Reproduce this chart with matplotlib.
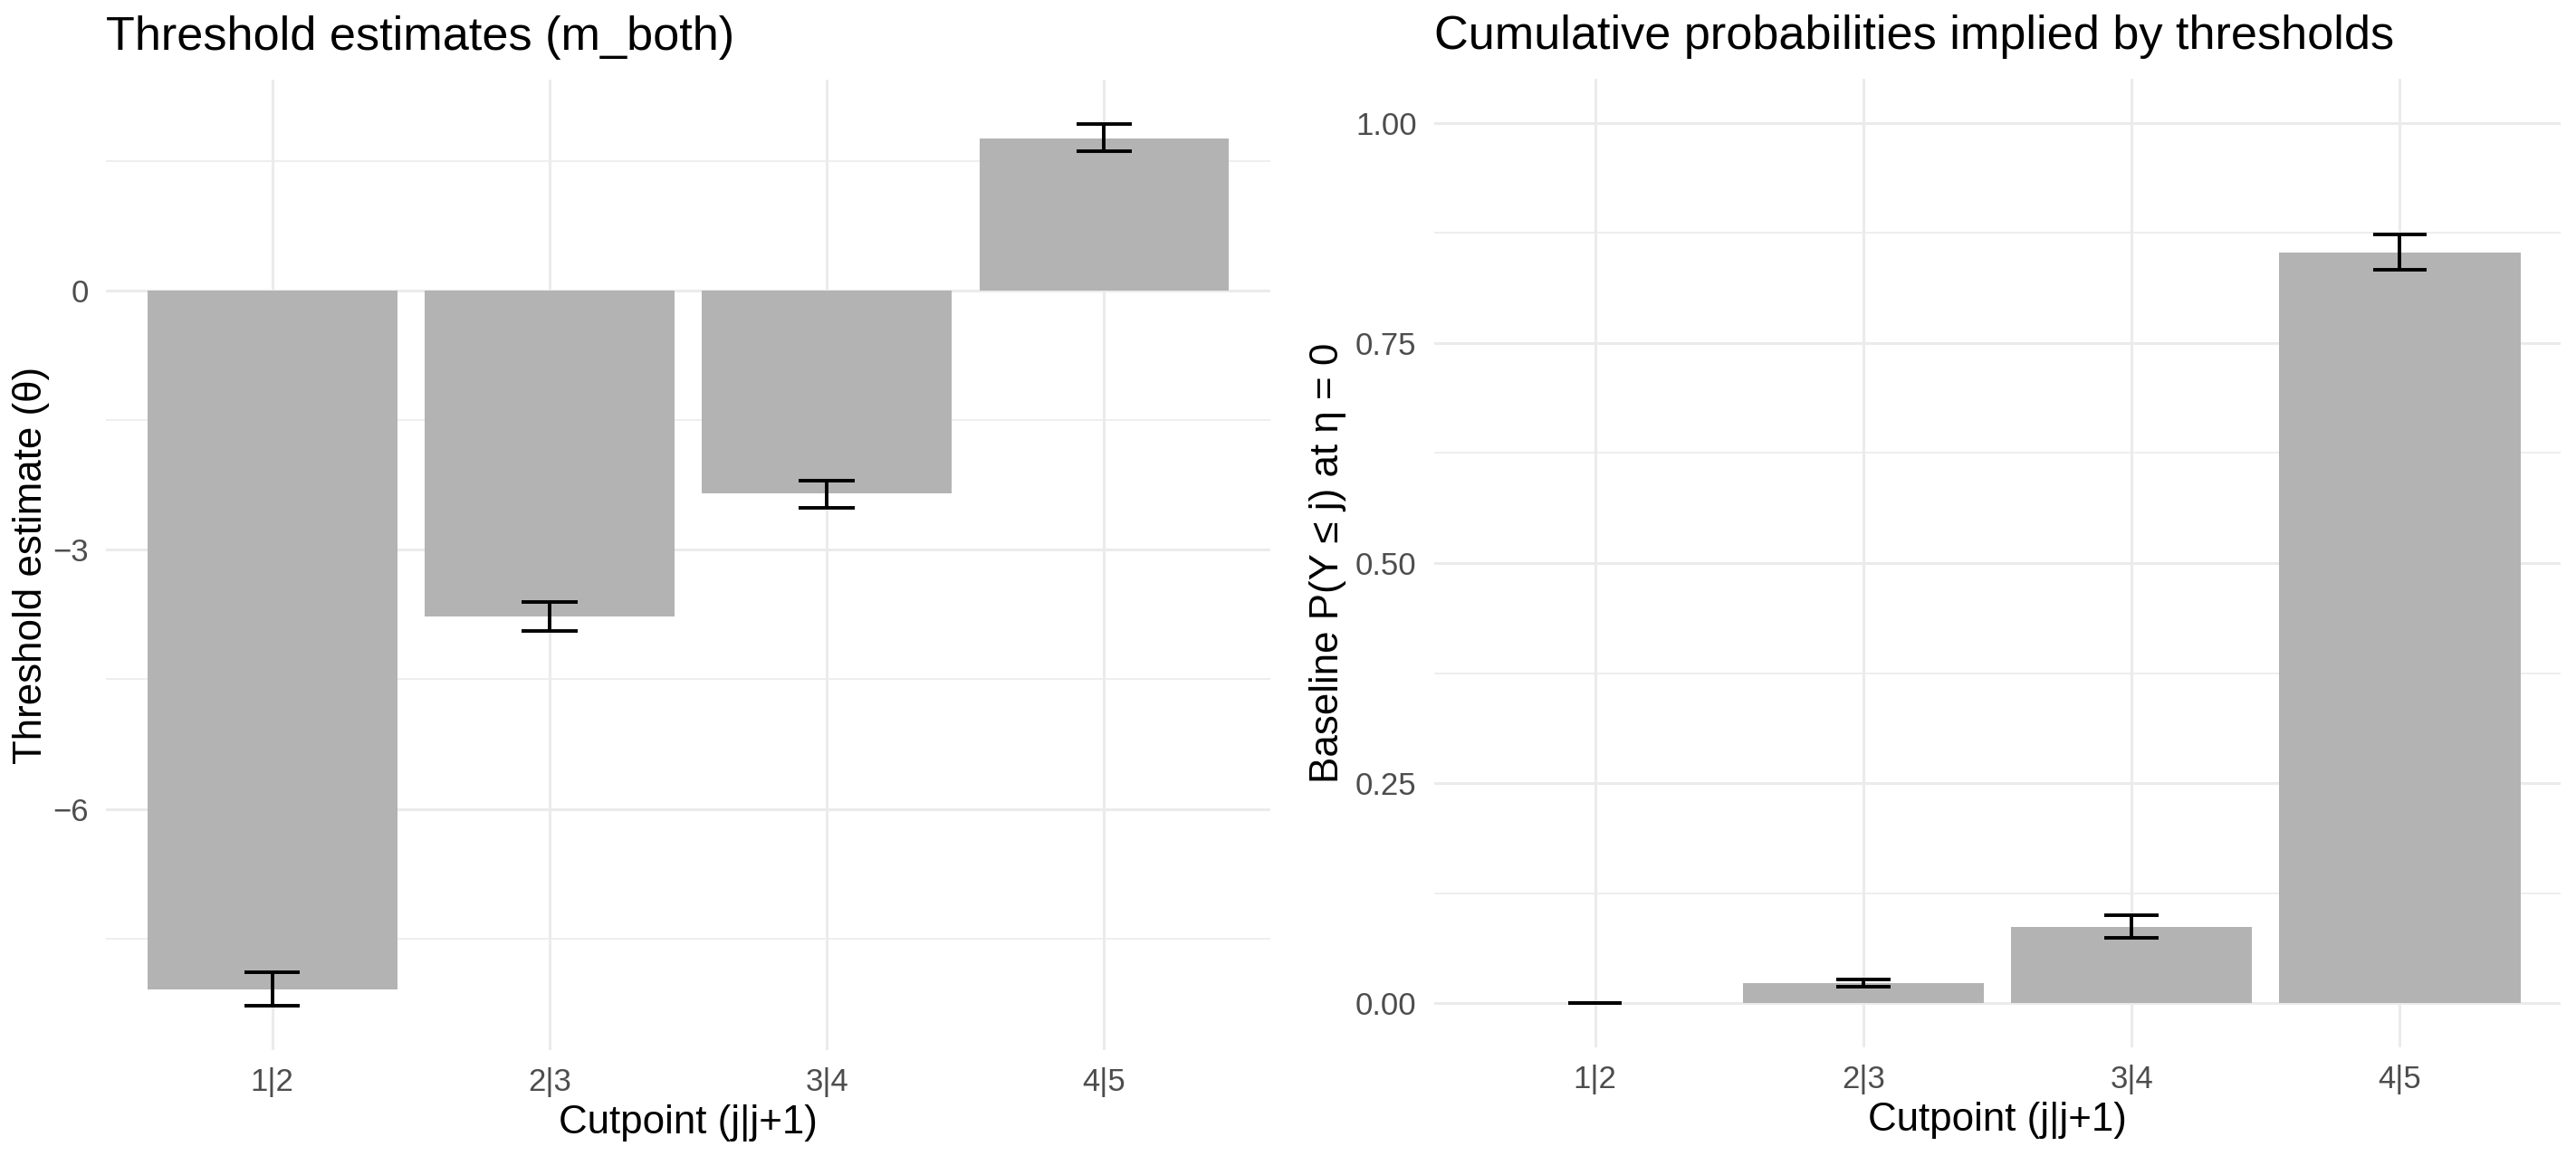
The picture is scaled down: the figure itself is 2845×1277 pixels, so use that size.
import numpy as np
import matplotlib
matplotlib.use("Agg")
import matplotlib.pyplot as plt

plt.rcParams['font.family'] = ['Liberation Sans', 'DejaVu Sans']

cutpoints = ["1|2", "2|3", "3|4", "4|5"]

# threshold estimates with 95% interval
theta = [-8.09, -3.77, -2.35, 1.76]
theta_lo = [-8.28, -3.94, -2.52, 1.61]
theta_hi = [-7.89, -3.60, -2.20, 1.93]

# baseline cumulative probabilities
prob = [0.0003, 0.0225, 0.087, 0.853]
prob_lo = [0.0002, 0.019, 0.0745, 0.833]
prob_hi = [0.0004, 0.0266, 0.0998, 0.873]

W, H = 2845, 1277
dpi = 200
fig = plt.figure(figsize=(W / dpi, H / dpi), dpi=dpi)

bar_color = "#B3B3B3"
grid_color = "#EBEBEB"


def panel(rect, vals, lo, hi, ylim, major, minor, fmt, title, ylabel, ylab_x):
    x0, y0, x1, y1 = rect
    ax = fig.add_axes([x0 / W, 1 - y1 / H, (x1 - x0) / W, (y1 - y0) / H])
    pos = np.arange(len(cutpoints)) + 1
    ax.bar(pos, vals, width=0.9, color=bar_color, zorder=2)
    ax.vlines(pos, lo, hi, color="black", linewidth=1.4, zorder=3)
    ax.hlines(lo, pos - 0.1, pos + 0.1, color="black", linewidth=1.4, zorder=3)
    ax.hlines(hi, pos - 0.1, pos + 0.1, color="black", linewidth=1.4, zorder=3)
    ax.set_xlim(0.4, 4.6)
    ax.set_ylim(*ylim)
    ax.set_xticks(pos)
    ax.set_xticklabels(cutpoints)
    ax.set_yticks(major)
    ax.set_yticklabels([fmt(v) for v in major])
    ax.set_yticks(minor, minor=True)
    ax.grid(True, which="major", color=grid_color, linewidth=1.1, zorder=0)
    ax.grid(True, which="minor", axis="y", color=grid_color, linewidth=0.6, zorder=0)
    ax.set_axisbelow(True)
    for s in ax.spines.values():
        s.set_visible(False)
    ax.tick_params(which="both", length=0)
    ax.tick_params(axis="x", pad=7, labelsize=12.5, labelcolor="#4D4D4D")
    ax.tick_params(axis="y", pad=7, labelsize=12.5, labelcolor="#4D4D4D")
    ax.set_title(title, loc="left", fontsize=18.8, pad=12)
    ax.set_xlabel("Cutpoint (j|j+1)", fontsize=15.8, va="top")
    ax.xaxis.set_label_coords(0.5, -0.056)
    ax.set_ylabel(ylabel, fontsize=15.8)
    ax.yaxis.set_label_coords(ylab_x, 0.5)
    return ax


panel((117, 88, 1403, 1160), theta, theta_lo, theta_hi, (-8.79, 2.44),
      [-6, -3, 0], [-7.5, -4.5, -1.5, 1.5], lambda v: f"{v:g}".replace("-", "\u2212"),
      "Threshold estimates (m_both)", "Threshold estimate (\u03b8)", -0.048)

panel((1584, 87, 2828, 1157), prob, prob_lo, prob_hi, (-0.05, 1.05),
      [0, 0.25, 0.5, 0.75, 1.0], [0.125, 0.375, 0.625, 0.875], lambda v: f"{v:.2f}",
      "Cumulative probabilities implied by thresholds",
      "Baseline P(Y \u2264 j) at \u03b7 = 0", -0.078)

fig.savefig("out.png", dpi=dpi, facecolor="white")
